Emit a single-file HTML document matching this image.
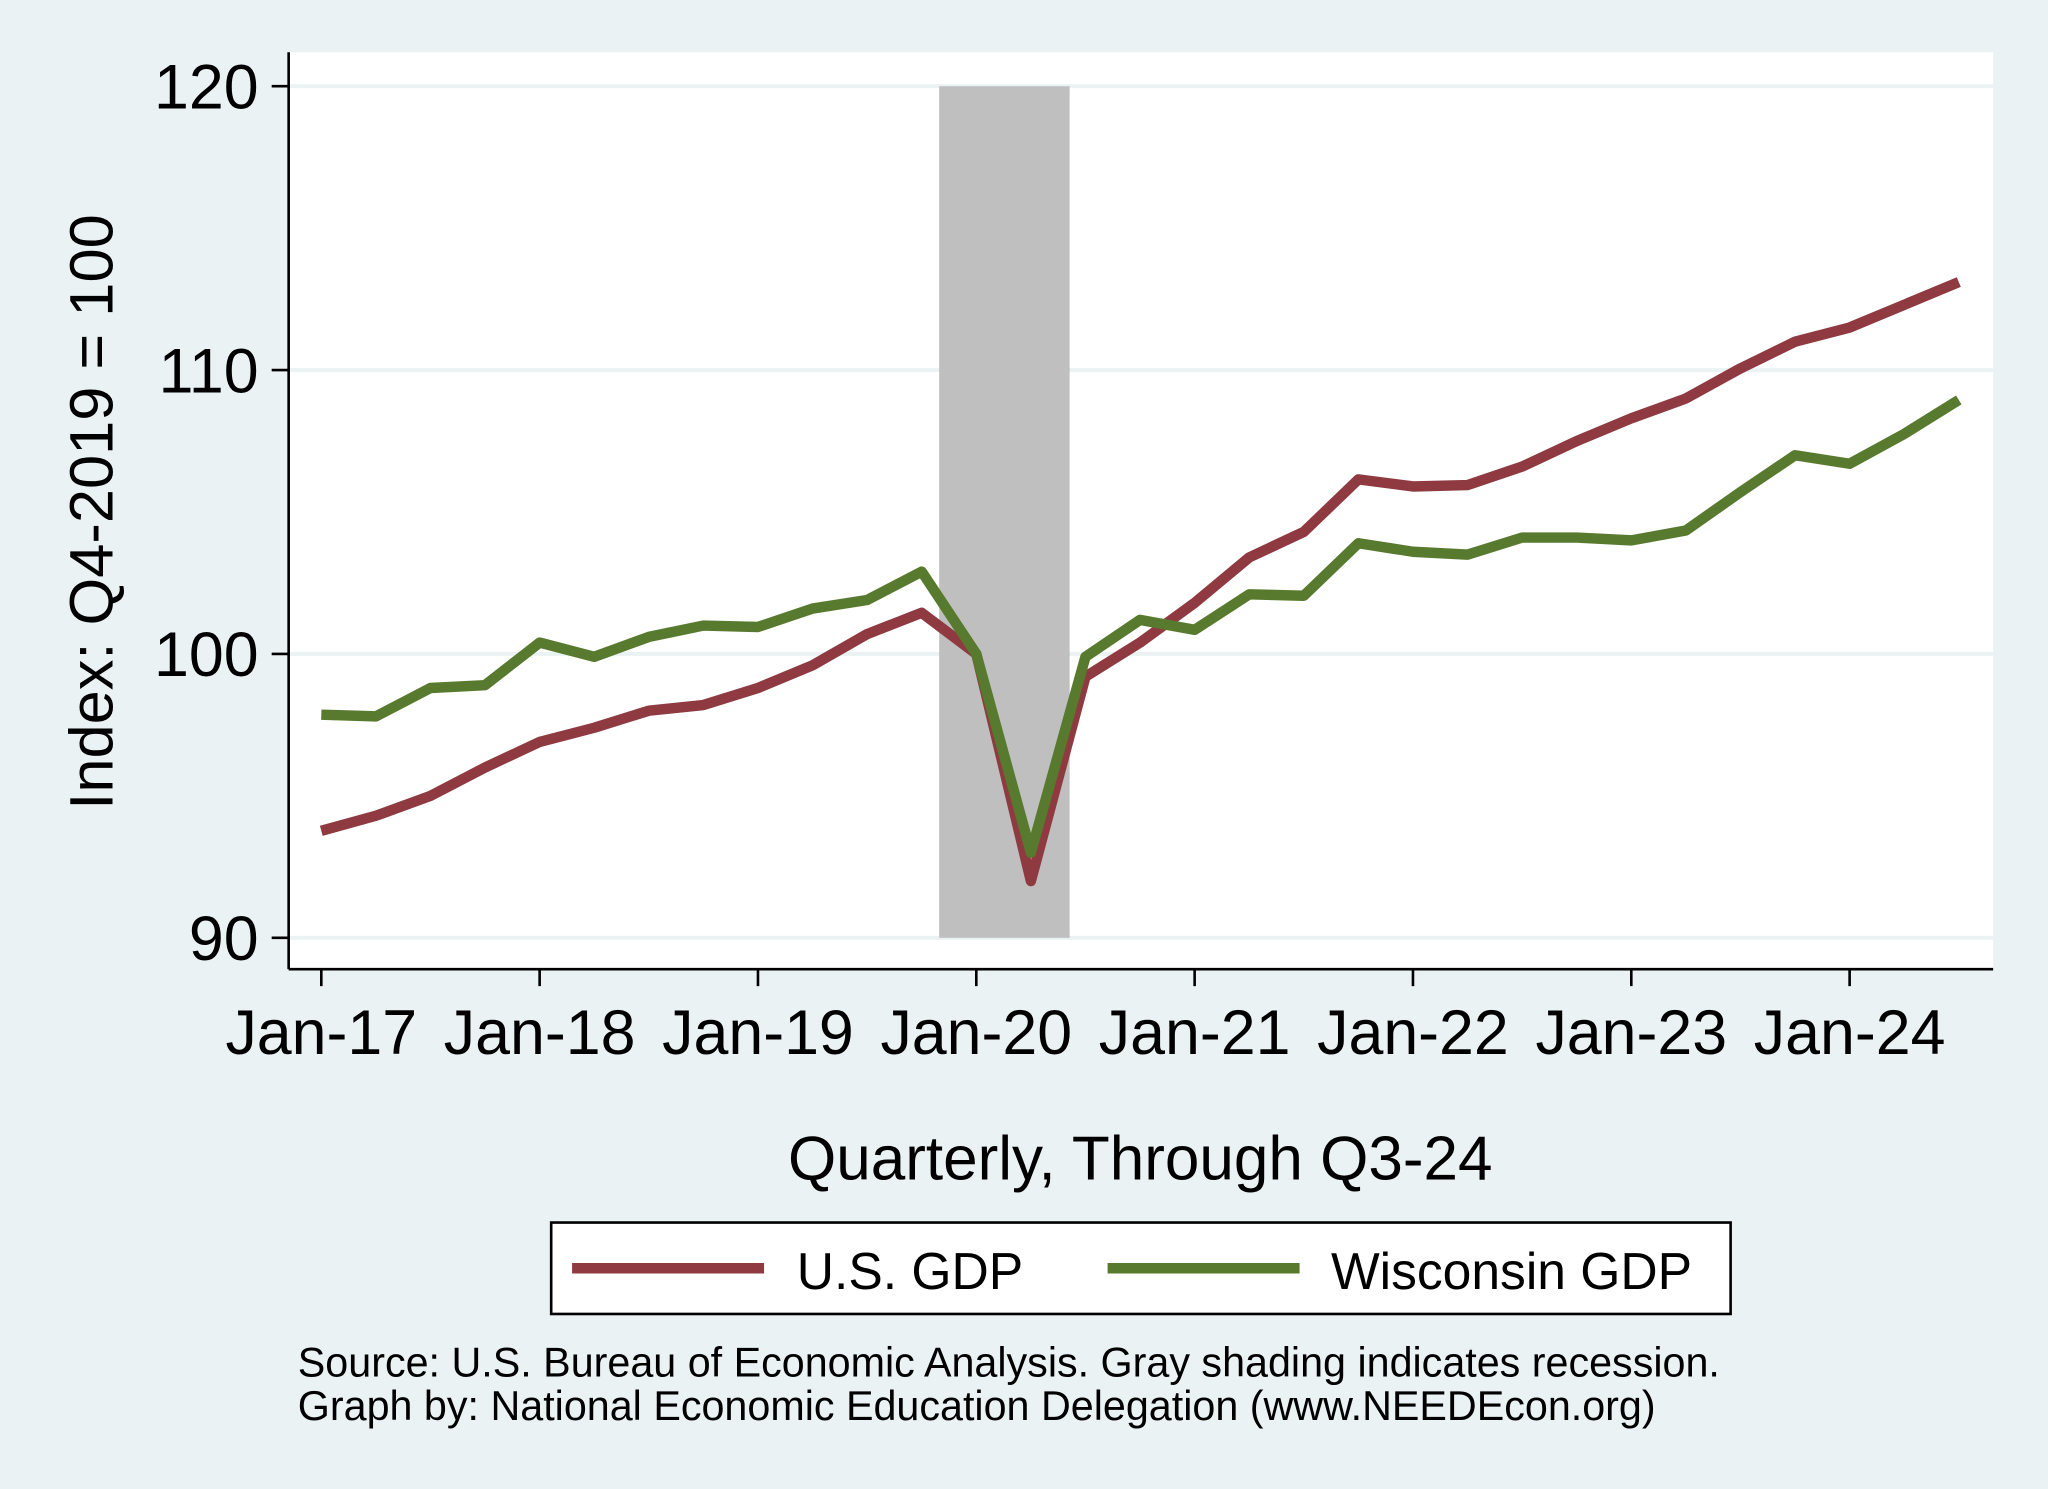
<!DOCTYPE html>
<html><head><meta charset="utf-8"><style>
html,body{margin:0;padding:0;background:#eaf2f3;}
svg{display:block;font-family:"Liberation Sans",Arial,sans-serif;}
</style></head><body>
<svg id="chart" width="2048" height="1489" viewBox="0 0 1568 1140" xmlns="http://www.w3.org/2000/svg">
<rect x="0" y="0" width="1568" height="1140" fill="#eaf2f3"/>
<rect x="221" y="40" width="1305" height="702" fill="#ffffff"/>
<g id="grid"></g>
<g id="shade"></g>
<g id="lines"></g>
<line x1="221" y1="40" x2="221" y2="742" stroke="#000" stroke-width="2"/>
<line x1="221" y1="742" x2="1526" y2="742" stroke="#000" stroke-width="2"/>
<g id="yticks"></g>
<g id="xticks"></g>
<text transform="translate(86,392) rotate(-90)" text-anchor="middle" font-size="47">Index: Q4-2019 = 100</text>
<text x="873" y="903" text-anchor="middle" font-size="47.5">Quarterly, Through Q3-24</text>
<g>
<rect x="422" y="936" width="903" height="70" fill="#fff" stroke="#000" stroke-width="2"/>
<line x1="438" y1="971" x2="585" y2="971" stroke="#8e3a40" stroke-width="8"/>
<text x="610" y="987" font-size="39.5">U.S. GDP</text>
<line x1="848" y1="971" x2="995" y2="971" stroke="#577a2e" stroke-width="8"/>
<text x="1019" y="987" font-size="39.5">Wisconsin GDP</text>
</g>
<text x="228" y="1054" font-size="31.6">Source: U.S. Bureau of Economic Analysis. Gray shading indicates recession.</text>
<text x="228" y="1087" font-size="31.6">Graph by: National Economic Education Delegation (www.NEEDEcon.org)</text>
</svg>
<script>
const usGdp=[93.77,94.3,95.0,96.0,96.9,97.4,98.0,98.2,98.8,99.6,100.7,101.45,100.0,92.0,99.2,100.4,101.8,103.4,104.3,106.15,105.9,105.95,106.6,107.5,108.3,109.0,110.06,111.0,111.5,112.3,113.1];
const wiGdp=[97.86,97.8,98.8,98.9,100.4,99.9,100.6,101.0,100.95,101.6,101.9,102.9,100.0,93.0,99.9,101.2,100.85,102.1,102.05,103.9,103.6,103.5,104.1,104.1,104.0,104.35,105.7,107.0,106.7,107.75,108.95];
const yTicks=[90,100,110,120];
const xTickLabels=["Jan-17","Jan-18","Jan-19","Jan-20","Jan-21","Jan-22","Jan-23","Jan-24"];
const recession=[11.32,13.71];
const NS="http://www.w3.org/2000/svg";
function xs(q){return 246+q*41.79;}
function ys(v){return 718-(v-90)*21.733;}
function mk(t,a,p){const e=document.createElementNS(NS,t);for(const k in a)e.setAttribute(k,a[k]);p.appendChild(e);return e;}
const grid=document.getElementById('grid'),yt=document.getElementById('yticks'),xt=document.getElementById('xticks');
yTicks.forEach(v=>{
 const g=mk('line',{x1:221,x2:1526,y1:ys(v),y2:ys(v),stroke:'#eaf2f3','stroke-width':3},grid);
 
 
 const t=mk('line',{x1:208,x2:221,y1:ys(v),y2:ys(v),stroke:'#000','stroke-width':2},yt);
 
 
 const l=mk('text',{x:198,y:ys(v)+17,'text-anchor':'end','font-size':48},yt);
 l.textContent=v;
 
 
});
xTickLabels.forEach((s,i)=>{
 const x=xs(i*4);
 const t=mk('line',{x1:x,x2:x,y1:742,y2:755,stroke:'#000','stroke-width':2},xt);
 
 
 const l=mk('text',{x:x,y:807,'text-anchor':'middle','font-size':48},xt);
 l.textContent=s;
 
 
});
const sh=mk('rect',{x:xs(recession[0]),y:ys(120),width:xs(recession[1])-xs(recession[0]),height:ys(90)-ys(120),fill:'#bfbfbf'},document.getElementById('shade'));


const lines=document.getElementById('lines');
const l1=mk('polyline',{points:usGdp.map((v,i)=>xs(i)+','+ys(v)).join(' '),fill:'none',stroke:'#8e3a40','stroke-width':8,'stroke-linejoin':'round'},lines);


const l2=mk('polyline',{points:wiGdp.map((v,i)=>xs(i)+','+ys(v)).join(' '),fill:'none',stroke:'#577a2e','stroke-width':8,'stroke-linejoin':'round'},lines);


</script>
</body></html>
